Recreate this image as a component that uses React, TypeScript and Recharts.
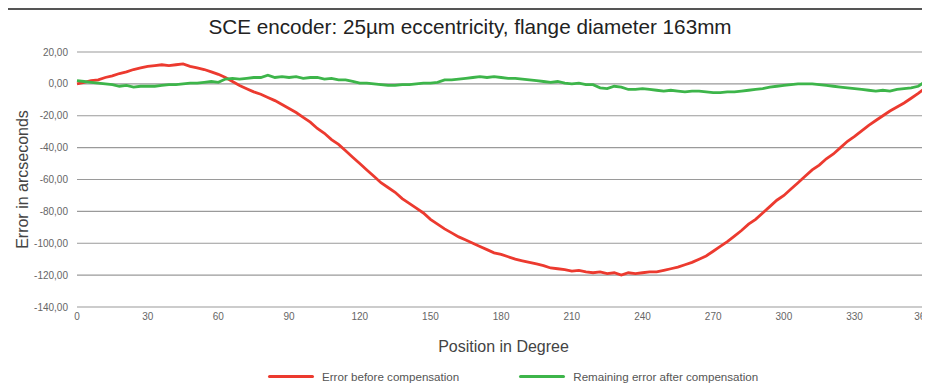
import React from "react";
import {
  LineChart,
  Line,
  XAxis,
  YAxis,
  CartesianGrid,
  Legend,
} from "recharts";

// position in degrees, 3° steps
const degrees = Array.from({ length: 121 }, (_, i) => i * 3);

const beforeCompensation = [
  0, 1, 2, 2.5, 4, 5, 6.5, 7.5, 9, 10,
  11, 11.5, 12, 11.5, 12, 12.5, 11, 10, 9, 7.5,
  6, 4, 1.5, -1, -3, -5, -6.5, -8.5, -10.5, -13,
  -15.5, -18, -21, -24, -28, -31, -35, -38, -42, -46,
  -50, -54, -58, -62, -65, -68, -72, -75, -78, -81,
  -85, -88, -91, -93.5, -96, -98, -100, -102, -104, -106,
  -107, -108.5, -110, -111, -112, -113, -114, -115.5, -116, -116.5,
  -117.5, -117, -118, -118.5, -118, -119, -118.5, -120, -118.5, -119,
  -118.5, -118, -118, -117, -116, -115, -113.5, -112, -110, -108,
  -105, -102, -99, -95.5, -92, -88, -85, -81, -77, -73,
  -70, -66, -62, -58, -54, -51, -47, -44, -40, -36,
  -33, -29.5, -26, -23, -20, -17, -14.5, -12, -9, -6,
  -2.5,
];

const afterCompensation = [
  2, 1.5, 1, 0.5, 0, -0.5, -1.5, -1, -2, -1.5,
  -1.5, -1.5, -1, -0.5, -0.5, 0, 0.5, 0.5, 1, 1.5,
  1, 3, 3.5, 3, 3.5, 4, 4, 5.5, 4, 4.5,
  4, 4.5, 3.5, 4, 4, 3, 3.5, 2.5, 2.5, 1.5,
  0.5, 0.5, 0, -0.5, -1, -1, -0.5, -0.5, 0, 0.5,
  0.5, 1, 2.5, 2.5, 3, 3.5, 4, 4.5, 4, 4.5,
  4, 3.5, 3.5, 3, 2.5, 2, 1.5, 1, 1.5, 0.5,
  0, 0.5, -0.5, -0.5, -2.5, -3, -1.5, -2, -3.5, -3.5,
  -3, -3.5, -4, -4.5, -4, -4.5, -5, -4.5, -4.5, -5,
  -5.5, -5.5, -5, -5, -4.5, -4, -3.5, -3, -2, -1.5,
  -1, -0.5, 0, 0, 0, -0.5, -1, -1.5, -2, -2.5,
  -3, -3.5, -4, -4.5, -4, -4.5, -3.5, -3, -2.5, -1.5,
  1.5,
];

const xTicks = [0, 30, 60, 90, 120, 150, 180, 210, 240, 270, 300, 330, 360];
const yTicks = [-140, -120, -100, -80, -60, -40, -20, 0, 20];

const seriesNames = {
  before: "Error before compensation",
  after: "Remaining error after compensation",
};

const data = degrees.map((deg, i) => ({
  deg,
  before: beforeCompensation[i],
  after: afterCompensation[i],
}));

const RED = "#ec3a2f";
const GREEN = "#3db54a";
const FONT = "'Liberation Sans', Arial, sans-serif";

const LegendContent = () => (
  <div style={{ display: "flex", alignItems: "center", fontFamily: FONT, fontSize: 11.6, color: "#555" }}>
    <span style={{ display: "inline-block", width: 46, height: 3.5, borderRadius: 2, background: RED, marginRight: 8 }} />
    <span style={{ marginRight: 60 }}>{seriesNames.before}</span>
    <span style={{ display: "inline-block", width: 46, height: 3.5, borderRadius: 2, background: GREEN, marginRight: 8 }} />
    <span>{seriesNames.after}</span>
  </div>
);

const fmt = (v: number) => v.toFixed(2).replace(".", ",");

export default function App() {
  return (
    <div
      style={{
        position: "relative",
        marginLeft: -2,
        width: 924,
        height: 382,
        borderLeft: "2px solid #555",
        borderTop: "2px solid #555",
        background: "#fff",
      }}
    >
      <div
        style={{
          position: "absolute",
          left: 0,
          top: 5,
          width: 924,
          textAlign: "center",
          fontFamily: FONT,
          fontSize: 20.7,
          color: "#222",
          lineHeight: "24px",
        }}
      >
        SCE encoder: 25µm eccentricity, flange diameter 163mm
      </div>
      <LineChart
        width={922}
        height={380}
        data={data}
        margin={{ top: 42, right: 0, bottom: 14, left: 0 }}
      >
        <CartesianGrid vertical={false} stroke="#9a9a9a" strokeWidth={1.2} />
        <XAxis
          dataKey="deg"
          type="number"
          domain={[0, 362]}
          ticks={xTicks}
          axisLine={false}
          tickLine={false}
          tickSize={0}
          tickMargin={6}
          height={45}
          tick={{ fill: "#666", fontSize: 10, fontFamily: FONT }}
          label={{
            value: "Position in Degree",
            position: "insideBottom",
            offset: 0,
            style: { fill: "#444", fontSize: 16, fontFamily: FONT },
          }}
        />
        <YAxis
          type="number"
          domain={[-140, 20]}
          ticks={yTicks}
          width={69}
          axisLine={false}
          tickLine={false}
          tickSize={0}
          tickMargin={9}
          tickFormatter={fmt}
          tick={{ fill: "#666", fontSize: 10, fontFamily: FONT }}
          label={{
            value: "Error in arcseconds",
            angle: -90,
            position: "insideLeft",
            offset: 14,
            style: { fill: "#444", fontSize: 16, fontFamily: FONT, textAnchor: "middle" },
          }}
        />
        <Legend
          verticalAlign="bottom"
          height={24}
          content={<LegendContent />}
          wrapperStyle={{ left: 260, top: 360, width: 600 }}
        />
        <Line
          dataKey="before"
          name={seriesNames.before}
          stroke={RED}
          strokeWidth={2.8}
          dot={false}
          isAnimationActive={false}
        />
        <Line
          dataKey="after"
          name={seriesNames.after}
          stroke={GREEN}
          strokeWidth={2.8}
          dot={false}
          isAnimationActive={false}
        />
      </LineChart>
    </div>
  );
}
